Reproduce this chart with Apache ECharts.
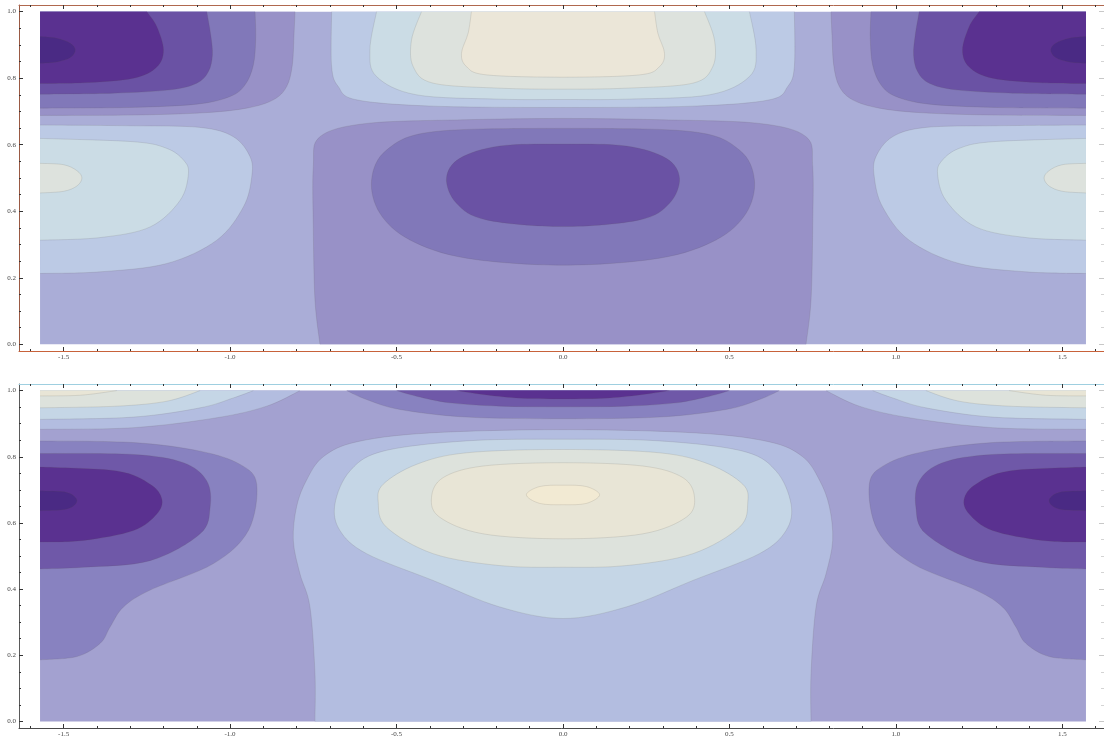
<!DOCTYPE html>
<html>
<head>
<meta charset="utf-8">
<script src="https://cdn.jsdelivr.net/npm/echarts@6/dist/echarts.min.js"></script>
<style>
  html, body { margin: 0; background: #fff; }
  #chart { width: 1104px; height: 742px; }
</style>
</head>
<body>
<div id="chart"></div>
<script>
// plotted data range is [-pi/2, pi/2] x [0, 1]; frame gets mathematica's 2% padding
const H = 1.5708
const X_MIN = -1.634
const X_MAX = 1.634
const Y_MIN = -0.02
const Y_MAX = 1.02

const xTicks = [-1.5, -1.0, -0.5, 0.0, 0.5, 1.0, 1.5]
const xTickLabels = ['-1.5', '-1.0', '-0.5', '0.0', '0.5', '1.0', '1.5']
const xMinor = [-1.6, -1.4, -1.3, -1.2, -1.1, -0.9, -0.8, -0.7, -0.6, -0.4, -0.3, -0.2, -0.1,
  0.1, 0.2, 0.3, 0.4, 0.6, 0.7, 0.8, 0.9, 1.1, 1.2, 1.3, 1.4, 1.6]
const yTicks = [0.0, 0.2, 0.4, 0.6, 0.8, 1.0]
const yTickLabels = ['0.0', '0.2', '0.4', '0.6', '0.8', '1.0']
const yMinor = [0.05, 0.1, 0.15, 0.25, 0.3, 0.35, 0.45, 0.5, 0.55, 0.65, 0.7, 0.75, 0.85, 0.9, 0.95]

// contour level colours, dark (low) to light (high)
const topColors = ['#4a2a84', '#5a3190', '#6a52a4', '#8178b9', '#9891c7',
  '#aaadd7', '#bccae5', '#cbdce5', '#dde2dd', '#ebe6d8']
const botColors = ['#4a2a84', '#5a3190', '#6f58a8', '#8882c0', '#a3a1d0',
  '#b3bde0', '#c5d6e6', '#dde2dc', '#e8e5d6', '#f2ead3']

// ---- upper panel: contour boundaries ----
const tDarkL4 = [[-0.805, 1], [-0.808, 0.93], [-0.813, 0.84], [-0.83, 0.775], [-0.87, 0.735], [-0.95, 0.71], [-1.08, 0.696], [-1.3, 0.689], [-H, 0.688]]
const tDarkL3 = [[-0.925, 1], [-0.923, 0.92], [-0.93, 0.84], [-0.955, 0.78], [-1.0, 0.745], [-1.1, 0.722], [-1.3, 0.712], [-H, 0.71]]
const tDarkL2 = [[-1.07, 1], [-1.058, 0.93], [-1.053, 0.87], [-1.065, 0.82], [-1.1, 0.785], [-1.18, 0.765], [-1.35, 0.755], [-H, 0.752]]
const tDarkL1 = [[-1.25, 1], [-1.22, 0.955], [-1.2, 0.885], [-1.22, 0.834], [-1.29, 0.8], [-1.44, 0.786], [-H, 0.784]]
const tDarkL0 = [[-H, 0.925], [-1.52, 0.92], [-1.48, 0.905], [-1.465, 0.885], [-1.48, 0.862], [-1.52, 0.849], [-H, 0.845]]
const tDarkR4 = [[0.805, 1], [0.808, 0.93], [0.813, 0.84], [0.83, 0.775], [0.87, 0.735], [0.95, 0.71], [1.08, 0.696], [1.3, 0.689], [H, 0.688]]
const tDarkR3 = [[0.925, 1], [0.923, 0.92], [0.93, 0.84], [0.955, 0.78], [1.0, 0.745], [1.1, 0.722], [1.3, 0.712], [H, 0.71]]
const tDarkR2 = [[1.07, 1], [1.058, 0.93], [1.053, 0.87], [1.065, 0.82], [1.1, 0.785], [1.18, 0.765], [1.35, 0.755], [H, 0.752]]
const tDarkR1 = [[1.25, 1], [1.22, 0.955], [1.2, 0.885], [1.22, 0.834], [1.29, 0.8], [1.44, 0.786], [H, 0.784]]
const tDarkR0 = [[H, 0.925], [1.52, 0.92], [1.48, 0.905], [1.465, 0.885], [1.48, 0.862], [1.52, 0.849], [H, 0.845]]

const tLightL6 = [[-H, 0.659], [-1.3, 0.657], [-1.09, 0.652], [-0.99, 0.624], [-0.94, 0.564], [-0.935, 0.503], [-0.96, 0.413], [-1.04, 0.313], [-1.19, 0.243], [-1.39, 0.218], [-H, 0.213]]
const tLightL7 = [[-H, 0.619], [-1.29, 0.609], [-1.19, 0.589], [-1.14, 0.554], [-1.125, 0.514], [-1.15, 0.433], [-1.24, 0.353], [-1.39, 0.321], [-H, 0.313]]
const tLightL8 = [[-H, 0.544], [-1.5, 0.54], [-1.46, 0.522], [-1.445, 0.5], [-1.46, 0.476], [-1.5, 0.46], [-H, 0.455]]
const tLightR6 = [[H, 0.659], [1.3, 0.657], [1.09, 0.652], [0.99, 0.624], [0.94, 0.564], [0.935, 0.503], [0.96, 0.413], [1.04, 0.313], [1.19, 0.243], [1.39, 0.218], [H, 0.213]]
const tLightR7 = [[H, 0.619], [1.29, 0.609], [1.19, 0.589], [1.14, 0.554], [1.125, 0.514], [1.15, 0.433], [1.24, 0.353], [1.39, 0.321], [H, 0.313]]
const tLightR8 = [[H, 0.544], [1.5, 0.54], [1.46, 0.522], [1.445, 0.5], [1.46, 0.476], [1.5, 0.46], [H, 0.455]]

const tTop6 = [[-0.695, 1], [-0.695, 0.835], [-0.675, 0.775], [-0.62, 0.735], [-0.39, 0.716], [0, 0.712], [0.39, 0.716], [0.62, 0.735], [0.675, 0.775], [0.695, 0.835], [0.695, 1]]
const tTop7 = [[-0.56, 1], [-0.58, 0.885], [-0.56, 0.805], [-0.44, 0.75], [-0.19, 0.737], [0, 0.736], [0.19, 0.737], [0.44, 0.75], [0.56, 0.805], [0.58, 0.885], [0.56, 1]]
const tTop8 = [[-0.425, 1], [-0.455, 0.915], [-0.45, 0.835], [-0.39, 0.785], [-0.19, 0.77], [0, 0.767], [0.19, 0.77], [0.39, 0.785], [0.45, 0.835], [0.455, 0.915], [0.425, 1]]
const tTop9 = [[-0.275, 1], [-0.285, 0.935], [-0.305, 0.875], [-0.29, 0.835], [-0.23, 0.81], [0, 0.803], [0.23, 0.81], [0.29, 0.835], [0.305, 0.875], [0.285, 0.935], [0.275, 1]]

const tCol4 = [[-0.73, 0], [-0.745, 0.133], [-0.75, 0.35], [-0.75, 0.534], [-0.73, 0.624], [-0.59, 0.664], [-0.3, 0.675], [0, 0.679],
  [0.3, 0.675], [0.59, 0.664], [0.73, 0.624], [0.75, 0.534], [0.75, 0.35], [0.745, 0.133], [0.73, 0]]
const tEll3 = [[0, 0.649], [-0.39, 0.639], [-0.53, 0.584], [-0.575, 0.494], [-0.55, 0.394], [-0.46, 0.314], [-0.29, 0.259], [0, 0.238],
  [0.29, 0.259], [0.46, 0.314], [0.55, 0.394], [0.575, 0.494], [0.53, 0.584], [0.39, 0.639]]
const tEll2 = [[0, 0.602], [-0.19, 0.596], [-0.31, 0.559], [-0.35, 0.499], [-0.32, 0.424], [-0.23, 0.374], [0, 0.354],
  [0.23, 0.374], [0.32, 0.424], [0.35, 0.499], [0.31, 0.559], [0.19, 0.596]]

// ---- lower panel ----
const bLightL5 = [[-H, 0.883], [-1.29, 0.888], [-1.04, 0.918], [-0.89, 0.953], [-0.79, 1]]
const bLightL6 = [[-H, 0.913], [-1.29, 0.92], [-1.09, 0.948], [-0.99, 0.978], [-0.93, 1]]
const bLightL7 = [[-H, 0.948], [-1.34, 0.953], [-1.19, 0.968], [-1.09, 1]]
const bLightL8 = [[-H, 0.984], [-1.45, 0.986], [-1.34, 1]]
const bLightR5 = [[H, 0.883], [1.29, 0.888], [1.04, 0.918], [0.89, 0.953], [0.79, 1]]
const bLightR6 = [[H, 0.913], [1.29, 0.92], [1.09, 0.948], [0.99, 0.978], [0.93, 1]]
const bLightR7 = [[H, 0.948], [1.34, 0.953], [1.19, 0.968], [1.09, 1]]
const bLightR8 = [[H, 0.984], [1.45, 0.986], [1.34, 1]]

const bDarkL3 = [[-H, 0.848], [-1.29, 0.843], [-1.09, 0.817], [-0.97, 0.777], [-0.92, 0.717], [-0.945, 0.577], [-1.05, 0.477], [-1.24, 0.397], [-1.32, 0.346], [-1.36, 0.286], [-1.39, 0.236], [-1.46, 0.196], [-H, 0.186]]
const bDarkL2 = [[-H, 0.81], [-1.29, 0.807], [-1.14, 0.782], [-1.07, 0.727], [-1.06, 0.647], [-1.09, 0.567], [-1.24, 0.486], [-1.44, 0.466], [-H, 0.461]]
const bDarkL1 = [[-H, 0.769], [-1.34, 0.757], [-1.24, 0.717], [-1.205, 0.672], [-1.22, 0.627], [-1.29, 0.577], [-1.44, 0.547], [-H, 0.542]]
const bDarkL0 = [[-H, 0.697], [-1.49, 0.692], [-1.46, 0.667], [-1.49, 0.642], [-H, 0.637]]
const bDarkR3 = [[H, 0.848], [1.29, 0.843], [1.09, 0.817], [0.97, 0.777], [0.92, 0.717], [0.945, 0.577], [1.05, 0.477], [1.24, 0.397], [1.32, 0.346], [1.36, 0.286], [1.39, 0.236], [1.46, 0.196], [H, 0.186]]
const bDarkR2 = [[H, 0.81], [1.29, 0.807], [1.14, 0.782], [1.07, 0.727], [1.06, 0.647], [1.09, 0.567], [1.24, 0.486], [1.44, 0.466], [H, 0.461]]
const bDarkR1 = [[H, 0.769], [1.34, 0.757], [1.24, 0.717], [1.205, 0.672], [1.22, 0.627], [1.29, 0.577], [1.44, 0.547], [H, 0.542]]
const bDarkR0 = [[H, 0.697], [1.49, 0.692], [1.46, 0.667], [1.49, 0.642], [H, 0.637]]

const bTop3 = [[-0.65, 1], [-0.59, 0.973], [-0.49, 0.943], [-0.29, 0.92], [0, 0.915], [0.29, 0.92], [0.49, 0.943], [0.59, 0.973], [0.65, 1]]
const bTop2 = [[-0.5, 1], [-0.44, 0.983], [-0.34, 0.963], [-0.19, 0.953], [0, 0.951], [0.19, 0.953], [0.34, 0.963], [0.44, 0.983], [0.5, 1]]
const bTop1 = [[-0.32, 1], [-0.24, 0.988], [-0.14, 0.978], [0, 0.975], [0.14, 0.978], [0.24, 0.988], [0.32, 1]]

const bCol5 = [[-0.745, 0], [-0.745, 0.145], [-0.76, 0.346], [-0.79, 0.446], [-0.81, 0.547], [-0.8, 0.65], [-0.77, 0.73], [-0.72, 0.8], [-0.62, 0.845], [-0.4, 0.872], [0, 0.882],
  [0.4, 0.872], [0.62, 0.845], [0.72, 0.8], [0.77, 0.73], [0.8, 0.65], [0.81, 0.547], [0.79, 0.446], [0.76, 0.346], [0.745, 0.145], [0.745, 0]]
const bEll6 = [[0, 0.853], [-0.29, 0.848], [-0.54, 0.817], [-0.64, 0.757], [-0.685, 0.657], [-0.67, 0.577], [-0.59, 0.507], [-0.39, 0.426], [-0.19, 0.346], [0, 0.311],
  [0.19, 0.346], [0.39, 0.426], [0.59, 0.507], [0.67, 0.577], [0.685, 0.657], [0.64, 0.757], [0.54, 0.817], [0.29, 0.848]]
const bEll7 = [[0, 0.822], [-0.29, 0.812], [-0.44, 0.777], [-0.54, 0.717], [-0.555, 0.662], [-0.53, 0.587], [-0.39, 0.507], [-0.19, 0.471], [0, 0.466],
  [0.19, 0.471], [0.39, 0.507], [0.53, 0.587], [0.555, 0.662], [0.54, 0.717], [0.44, 0.777], [0.29, 0.812]]
const bEll8 = [[0, 0.782], [-0.24, 0.772], [-0.36, 0.737], [-0.395, 0.677], [-0.37, 0.617], [-0.24, 0.567], [0, 0.552],
  [0.24, 0.567], [0.37, 0.617], [0.395, 0.677], [0.36, 0.737], [0.24, 0.772]]
const bEll9 = [[0, 0.714], [-0.07, 0.71], [-0.11, 0.685], [-0.07, 0.659], [0, 0.655], [0.07, 0.659], [0.11, 0.685], [0.07, 0.71]]

// paint order: base first, then nested regions outer to inner
const topRegions = [
  { lvl: 5, rect: [[-H, 0], [H, 1]] },
  { lvl: 4, pts: tDarkL4, via: [[-H, 1]] },
  { lvl: 3, pts: tDarkL3, via: [[-H, 1]] },
  { lvl: 2, pts: tDarkL2, via: [[-H, 1]] },
  { lvl: 1, pts: tDarkL1, via: [[-H, 1]] },
  { lvl: 0, pts: tDarkL0 },
  { lvl: 4, pts: tDarkR4, via: [[H, 1]] },
  { lvl: 3, pts: tDarkR3, via: [[H, 1]] },
  { lvl: 2, pts: tDarkR2, via: [[H, 1]] },
  { lvl: 1, pts: tDarkR1, via: [[H, 1]] },
  { lvl: 0, pts: tDarkR0 },
  { lvl: 6, pts: tLightL6 },
  { lvl: 7, pts: tLightL7 },
  { lvl: 8, pts: tLightL8 },
  { lvl: 6, pts: tLightR6 },
  { lvl: 7, pts: tLightR7 },
  { lvl: 8, pts: tLightR8 },
  { lvl: 6, pts: tTop6 },
  { lvl: 7, pts: tTop7 },
  { lvl: 8, pts: tTop8 },
  { lvl: 9, pts: tTop9 },
  { lvl: 4, pts: tCol4 },
  { lvl: 3, pts: tEll3, loop: true },
  { lvl: 2, pts: tEll2, loop: true }
]

const botRegions = [
  { lvl: 4, rect: [[-H, 0], [H, 1]] },
  { lvl: 5, pts: bLightL5, via: [[-H, 1]] },
  { lvl: 6, pts: bLightL6, via: [[-H, 1]] },
  { lvl: 7, pts: bLightL7, via: [[-H, 1]] },
  { lvl: 8, pts: bLightL8, via: [[-H, 1]] },
  { lvl: 5, pts: bLightR5, via: [[H, 1]] },
  { lvl: 6, pts: bLightR6, via: [[H, 1]] },
  { lvl: 7, pts: bLightR7, via: [[H, 1]] },
  { lvl: 8, pts: bLightR8, via: [[H, 1]] },
  { lvl: 3, pts: bDarkL3 },
  { lvl: 2, pts: bDarkL2 },
  { lvl: 1, pts: bDarkL1 },
  { lvl: 0, pts: bDarkL0 },
  { lvl: 3, pts: bDarkR3 },
  { lvl: 2, pts: bDarkR2 },
  { lvl: 1, pts: bDarkR1 },
  { lvl: 0, pts: bDarkR0 },
  { lvl: 3, pts: bTop3 },
  { lvl: 2, pts: bTop2 },
  { lvl: 1, pts: bTop1 },
  { lvl: 5, pts: bCol5 },
  { lvl: 6, pts: bEll6, loop: true },
  { lvl: 7, pts: bEll7, loop: true },
  { lvl: 8, pts: bEll8, loop: true },
  { lvl: 9, pts: bEll9, loop: true }
]

// catmull-rom through the points, as cubic beziers
function seg(p0, p1, p2, p3) {
  const c1x = p1[0] + (p2[0] - p0[0]) / 6
  const c1y = p1[1] + (p2[1] - p0[1]) / 6
  const c2x = p2[0] - (p3[0] - p1[0]) / 6
  const c2y = p2[1] - (p3[1] - p1[1]) / 6
  return ' C' + c1x + ' ' + c1y + ' ' + c2x + ' ' + c2y + ' ' + p2[0] + ' ' + p2[1]
}

function openPath(p) {
  let d = 'M' + p[0][0] + ' ' + p[0][1]
  const n = p.length
  for (let i = 0; i < n - 1; i++) {
    d += seg(p[Math.max(i - 1, 0)], p[i], p[i + 1], p[Math.min(i + 2, n - 1)])
  }
  return d
}

function loopPath(p) {
  const n = p.length
  let d = 'M' + p[0][0] + ' ' + p[0][1]
  for (let i = 0; i < n; i++) {
    d += seg(p[(i - 1 + n) % n], p[i], p[(i + 1) % n], p[(i + 2) % n])
  }
  return d + ' Z'
}

function contourRenderer(regions, colors) {
  return function (params, api) {
    const r = regions[params.dataIndex]
    const fill = colors[r.lvl]
    if (r.rect) {
      const a = api.coord(r.rect[0])
      const b = api.coord(r.rect[1])
      return {
        type: 'rect',
        shape: { x: Math.min(a[0], b[0]), y: Math.min(a[1], b[1]), width: Math.abs(b[0] - a[0]), height: Math.abs(b[1] - a[1]) },
        style: { fill: fill, stroke: 'none' }
      }
    }
    const p = r.pts.map(q => api.coord(q))
    const edge = r.loop ? loopPath(p) : openPath(p)
    let area = edge
    if (!r.loop) {
      (r.via || []).forEach(q => {
        const c = api.coord(q)
        area += ' L' + c[0] + ' ' + c[1]
      })
      area += ' Z'
    }
    return {
      type: 'group',
      children: [
        { type: 'path', shape: { pathData: area }, style: { fill: fill, stroke: 'none' } },
        { type: 'path', shape: { pathData: edge }, style: { fill: 'none', stroke: 'rgba(90,80,75,0.2)', lineWidth: 0.7 } }
      ]
    }
  }
}

const labelFont = { fontFamily: 'Liberation Serif', fontSize: 7, color: '#444' }

function xAx(gridIndex, position, ticks, len, withLabels, lineColor) {
  return {
    type: 'value', gridIndex, position, min: X_MIN, max: X_MAX, z: 5,
    splitLine: { show: false },
    axisLine: { show: !!lineColor, onZero: false, lineStyle: { color: lineColor || '#000', width: 1 } },
    axisTick: { show: true, inside: true, length: len, customValues: ticks, lineStyle: { color: '#333', width: 1 } },
    axisLabel: Object.assign({
      show: withLabels, customValues: ticks, margin: 3,
      formatter: v => xTickLabels[xTicks.indexOf(v)]
    }, labelFont)
  }
}

function yAx(gridIndex, position, ticks, len, withLabels, lineColor, tickColor) {
  return {
    type: 'value', gridIndex, position, min: Y_MIN, max: Y_MAX, z: 5,
    splitLine: { show: false },
    axisLine: { show: !!lineColor, onZero: false, lineStyle: { color: lineColor || '#000', width: 1 } },
    axisTick: { show: true, inside: true, length: len, customValues: ticks, lineStyle: { color: tickColor || '#333', width: 1 } },
    axisLabel: Object.assign({
      show: withLabels, customValues: ticks, margin: 3,
      formatter: v => yTickLabels[yTicks.indexOf(v)]
    }, labelFont)
  }
}

function frameAxes(g, colors) {
  return {
    x: [
      xAx(g, 'bottom', xTicks, 4, true, colors.bottom),
      xAx(g, 'bottom', xMinor, 2, false, null),
      xAx(g, 'top', xTicks, 4, false, colors.top),
      xAx(g, 'top', xMinor, 2, false, null)
    ],
    y: [
      yAx(g, 'left', yTicks, 4, true, colors.left),
      yAx(g, 'left', yMinor, 2, false, null),
      yAx(g, 'right', yTicks, 8, false, null, '#c8c8c8'),
      yAx(g, 'right', yMinor, 6, false, null, '#d4d4d4')
    ]
  }
}

const upperFrame = frameAxes(0, { bottom: '#c8623a', top: '#b0684e', left: '#9a5a44' })
const lowerFrame = frameAxes(1, { bottom: '#4a4a4a', top: '#9fcfe0', left: '#5a5a5a' })

const chart = echarts.init(document.getElementById('chart'), null, { renderer: 'canvas' })
chart.setOption({
  backgroundColor: '#ffffff',
  animation: false,
  grid: [
    { left: 19, top: 5, width: 1088, height: 346, containLabel: false, outerBoundsMode: 'none' },
    { left: 19, top: 384, width: 1088, height: 344, containLabel: false, outerBoundsMode: 'none' }
  ],
  xAxis: upperFrame.x.concat(lowerFrame.x),
  yAxis: upperFrame.y.concat(lowerFrame.y),
  series: [
    {
      type: 'custom', xAxisIndex: 0, yAxisIndex: 0, silent: true, z: 1,
      data: topRegions.map(r => ({ value: (r.pts || r.rect)[0] })),
      renderItem: contourRenderer(topRegions, topColors)
    },
    {
      type: 'custom', xAxisIndex: 4, yAxisIndex: 4, silent: true, z: 1,
      data: botRegions.map(r => ({ value: (r.pts || r.rect)[0] })),
      renderItem: contourRenderer(botRegions, botColors)
    }
  ]
})
</script>
</body>
</html>
